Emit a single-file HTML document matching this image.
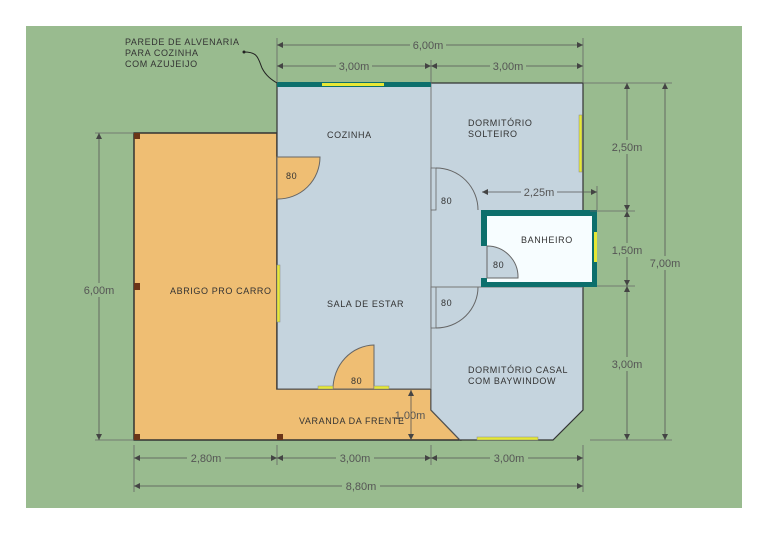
<!DOCTYPE html>
<html><head><meta charset="utf-8"><style>
html,body{margin:0;padding:0;background:#fff;width:768px;height:543px;overflow:hidden}
text{font-family:"Liberation Sans",sans-serif;}
</style></head><body>
<svg width="768" height="543" viewBox="0 0 768 543" xmlns="http://www.w3.org/2000/svg">
<defs>
<marker id="a" viewBox="0 0 10 10" refX="10" refY="5" markerWidth="9" markerHeight="6" orient="auto-start-reverse" markerUnits="userSpaceOnUse"><path d="M0,0L10,5L0,10z" fill="#444"/></marker>
</defs>
<rect x="26" y="26" width="716" height="482" fill="#99bb8f"/>
<!-- garage + porch orange -->
<path d="M134,133 H277 V389 H431 V410 L460,440 H134 Z" fill="#efbe73" stroke="#333" stroke-width="1.5"/>
<!-- house light blue -->
<path d="M277,83 H583 V410 L553,440 H460 L431,410 V389 H277 Z" fill="#c5d4de"/>
<path d="M277,83 H583 V410 L553,440 H460" fill="none" stroke="#333" stroke-width="1.2"/>
<path d="M431,389 V410 L460,440" fill="none" stroke="#555" stroke-width="1"/>
<line x1="277" y1="389" x2="431" y2="389" stroke="#555" stroke-width="1"/>
<line x1="277" y1="83" x2="277" y2="389" stroke="#333" stroke-width="1.2"/>
<!-- kitchen door bulge -->
<path d="M277,157 H320 A42,42 0 0 1 277,199 Z" fill="#efbe73" stroke="#666" stroke-width="1"/>
<!-- front door -->
<path d="M333,389 A42,44 0 0 1 374,345 V389 Z" fill="#efbe73" stroke="#666" stroke-width="1"/>
<!-- interior wall -->
<line x1="431" y1="83" x2="431" y2="389" stroke="#777" stroke-width="1"/>
<!-- dorm solteiro door -->
<rect x="431" y="168" width="5" height="42" fill="#c5d4de" stroke="#666" stroke-width="0.8"/>
<path d="M436,168 A42,42 0 0 1 478,210" fill="none" stroke="#666" stroke-width="1"/>
<!-- casal door -->
<rect x="431" y="287" width="5" height="41" fill="#c5d4de" stroke="#666" stroke-width="0.8"/>
<path d="M436,328 A42,41 0 0 0 478,287" fill="none" stroke="#666" stroke-width="1"/>
<line x1="431" y1="287" x2="583" y2="287" stroke="#777" stroke-width="1"/>
<!-- bathroom -->
<rect x="481" y="210" width="116" height="77" fill="#0d6f6c"/>
<rect x="487" y="216" width="105" height="66" fill="#f7fdff"/>
<rect x="481" y="246" width="6" height="32" fill="#c5d4de"/>
<path d="M487,246 A31,31 0 0 1 518,278 H487 Z" fill="#c5d4de" stroke="#666" stroke-width="1"/>
<rect x="594" y="232" width="3" height="30" fill="#e6e835"/>
<!-- top wall teal + window -->
<rect x="277" y="82" width="154" height="5" fill="#0d6f6c"/>
<rect x="322" y="83" width="62" height="3" fill="#e6e835"/>
<!-- windows -->
<rect x="579" y="115" width="3" height="57" fill="#e6e835" stroke="#888" stroke-width="0.5"/>
<rect x="277" y="265" width="3" height="57" fill="#e6e835" stroke="#888" stroke-width="0.5"/>
<rect x="318" y="386" width="15" height="3" fill="#e6e835" stroke="#888" stroke-width="0.5"/>
<rect x="374" y="386" width="15" height="3" fill="#e6e835" stroke="#888" stroke-width="0.5"/>
<rect x="477" y="437" width="61" height="3" fill="#e6e835" stroke="#888" stroke-width="0.5"/>
<!-- posts -->
<rect x="134" y="133" width="6" height="6" fill="#6b3518"/>
<rect x="134" y="283" width="6" height="7" fill="#6b3518"/>
<rect x="134" y="434" width="6" height="6" fill="#6b3518"/>
<rect x="277" y="434" width="6" height="6" fill="#6b3518"/>
<!-- dimension lines -->
<g stroke="#666" stroke-width="0.8" fill="none">
<line x1="277" y1="38" x2="277" y2="83"/><line x1="583" y1="38" x2="583" y2="83"/>
<line x1="431" y1="60" x2="431" y2="83"/>
<line x1="583" y1="83" x2="672" y2="83"/><line x1="590" y1="211" x2="635" y2="211"/>
<line x1="597" y1="286" x2="635" y2="286"/><line x1="590" y1="440" x2="672" y2="440"/>
<line x1="95" y1="133" x2="134" y2="133"/><line x1="95" y1="440" x2="134" y2="440"/>
<line x1="134" y1="445" x2="134" y2="492"/><line x1="277" y1="445" x2="277" y2="465"/>
<line x1="431" y1="445" x2="431" y2="465"/><line x1="583" y1="445" x2="583" y2="492"/>
<line x1="597" y1="186" x2="597" y2="210"/>
</g>
<g stroke="#555" stroke-width="0.8" marker-start="url(#a)" marker-end="url(#a)">
<line x1="277" y1="45" x2="583" y2="45"/>
<line x1="277" y1="66" x2="431" y2="66"/><line x1="431" y1="66" x2="583" y2="66"/>
<line x1="627" y1="83" x2="627" y2="211"/><line x1="627" y1="211" x2="627" y2="286"/>
<line x1="627" y1="286" x2="627" y2="440"/><line x1="665" y1="83" x2="665" y2="440"/>
<line x1="99" y1="133" x2="99" y2="440"/>
<line x1="134" y1="458" x2="277" y2="458"/><line x1="277" y1="458" x2="431" y2="458"/>
<line x1="431" y1="458" x2="583" y2="458"/><line x1="134" y1="486" x2="583" y2="486"/>
<line x1="482" y1="192" x2="597" y2="192"/><line x1="411" y1="390" x2="411" y2="440"/>
</g>
<g font-size="11" fill="#555" text-anchor="middle">
<rect x="410" y="38" width="36" height="13" fill="#99bb8f"/><text x="428" y="49">6,00m</text>
<rect x="336" y="59" width="36" height="13" fill="#99bb8f"/><text x="354" y="70">3,00m</text>
<rect x="490" y="59" width="36" height="13" fill="#99bb8f"/><text x="508" y="70">3,00m</text>
<rect x="608" y="140" width="38" height="14" fill="#99bb8f"/><text x="627" y="151">2,50m</text>
<rect x="608" y="243" width="38" height="14" fill="#99bb8f"/><text x="627" y="254">1,50m</text>
<rect x="608" y="357" width="38" height="14" fill="#99bb8f"/><text x="627" y="368">3,00m</text>
<rect x="646" y="256" width="38" height="14" fill="#99bb8f"/><text x="665" y="267">7,00m</text>
<rect x="80" y="283" width="38" height="14" fill="#99bb8f"/><text x="99" y="294">6,00m</text>
<rect x="187" y="451" width="38" height="14" fill="#99bb8f"/><text x="206" y="462">2,80m</text>
<rect x="336" y="451" width="38" height="14" fill="#99bb8f"/><text x="355" y="462">3,00m</text>
<rect x="490" y="451" width="38" height="14" fill="#99bb8f"/><text x="509" y="462">3,00m</text>
<rect x="342" y="479" width="38" height="14" fill="#99bb8f"/><text x="361" y="490">8,80m</text>
<rect x="521" y="185" width="36" height="14" fill="#c5d4de"/><text x="539" y="196">2,25m</text>
<text x="410" y="419">1,00m</text>
</g>
<g font-size="9" fill="#333" letter-spacing="0.6">
<text x="125" y="45">PAREDE DE ALVENARIA</text>
<text x="125" y="56">PARA COZINHA</text>
<text x="125" y="67">COM AZUJEIJO</text>
<text x="327" y="138">COZINHA</text>
<text x="468" y="126">DORMITÓRIO</text>
<text x="468" y="137">SOLTEIRO</text>
<text x="521" y="243">BANHEIRO</text>
<text x="170" y="294">ABRIGO PRO CARRO</text>
<text x="327" y="307">SALA DE ESTAR</text>
<text x="468" y="373">DORMITÓRIO CASAL</text>
<text x="468" y="384">COM BAYWINDOW</text>
<text x="299" y="424">VARANDA DA FRENTE</text>
<text x="286" y="179">80</text>
<text x="441" y="204">80</text>
<text x="493" y="268">80</text>
<text x="441" y="306">80</text>
<text x="351" y="384">80</text>
</g>
<path d="M244,52 C258,52 258,58 262,68 C266,76 272,80 277,83" fill="none" stroke="#222" stroke-width="1"/>
<circle cx="244" cy="52" r="1.5" fill="#222"/>
</svg>
</body></html>
